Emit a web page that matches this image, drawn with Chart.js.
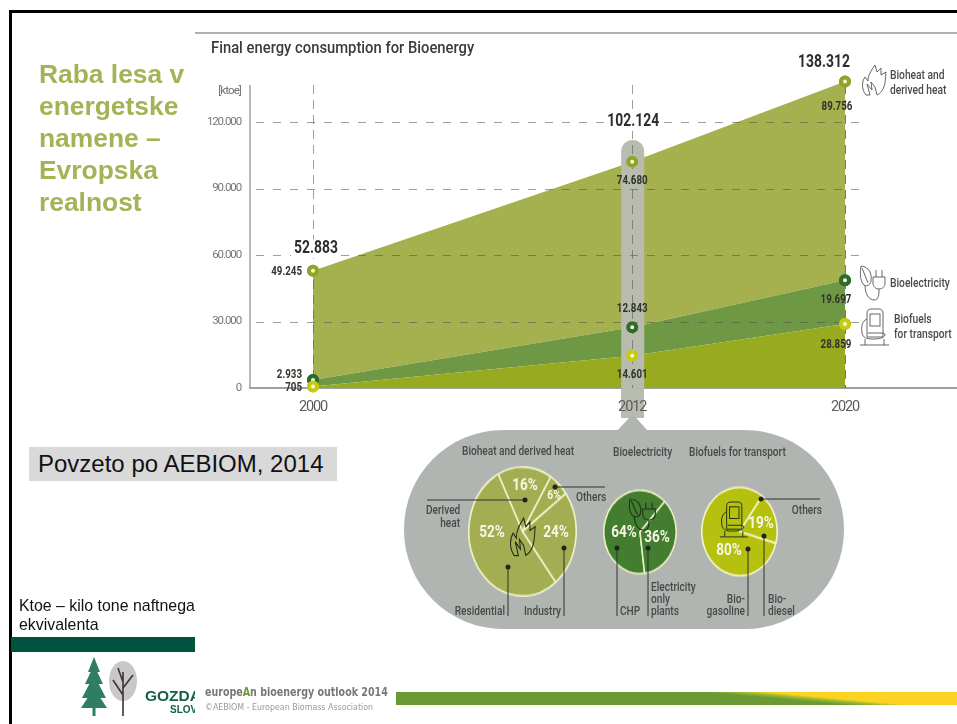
<!DOCTYPE html>
<html lang="sl">
<head>
<meta charset="utf-8">
<title>Raba lesa v energetske namene</title>
<script src="https://cdn.jsdelivr.net/npm/chart.js@4"></script>
<style>
html,body{margin:0;padding:0;background:#fff;}
#page{position:relative;width:957px;height:724px;overflow:hidden;background:#fff;font-family:"Liberation Sans",Arial,sans-serif;}
#page>*{position:absolute;}
canvas{display:block;}
#frameTop{left:9px;top:10px;width:948px;height:3px;background:#000;}
#frameLeft{left:9px;top:10px;width:3px;height:714px;background:#000;}
#imgLine{left:195px;top:32px;width:762px;height:2px;background:#b0b0b0;}
#heading{left:39px;top:58px;font-weight:bold;font-size:26.4px;line-height:32px;color:#a6b255;white-space:nowrap;}
#source{left:29px;top:447px;width:299px;height:34px;padding-left:9px;background:#d9d9d9;font-size:24px;line-height:34px;color:#111;white-space:nowrap;}
#note{left:19px;top:595.5px;width:178px;overflow:hidden;font-size:15.9px;line-height:19.5px;color:#111;white-space:nowrap;}
#greenBar{left:11px;top:637px;width:184px;height:15px;background:#00533f;}
#logoClip{left:140px;top:680px;width:55px;height:40px;overflow:hidden;}
#logoClip div{position:absolute;font-weight:bold;color:#14604c;white-space:nowrap;}
#chartTitle{left:211px;top:37px;font-family:Roboto,sans-serif;font-size:17px;font-weight:500;line-height:20px;color:#3b3b3b;white-space:nowrap;transform:scaleX(.87);transform-origin:0 50%;}
#footA{left:205px;top:684px;font-family:"DejaVu Sans Condensed",sans-serif;font-weight:bold;font-size:12.3px;line-height:16px;color:#777;white-space:nowrap;transform:scaleX(.86);transform-origin:0 50%;}
#footA b{color:#6b9a35;}
#footB{left:205px;top:701px;font-family:"DejaVu Sans Condensed",sans-serif;font-size:8.8px;line-height:12px;color:#999;white-space:nowrap;}
#footBar{left:396px;top:692px;width:561px;height:13px;background:linear-gradient(5.2deg,#6b9a35 0%,#6b9a35 64%,#9cbc2f 69%,#fdd322 73%,#fdd322 100%);}
#panelBack,#overlay{left:0;top:0;}
#main{left:0;top:0;}
.pie{position:absolute;transform-origin:50% 50%;}
svg text{font-family:Roboto,sans-serif;font-size:13px;font-weight:500;fill:#474a47;transform-box:fill-box;transform-origin:0 50%;transform:scaleX(.78);}
svg text.r{text-anchor:end;transform-origin:100% 50%;}
svg .pct{font-weight:bold;fill:#f6f6e4;font-size:17px;text-anchor:middle;dominant-baseline:middle;transform-origin:50% 50%;transform:scaleX(.8);}
svg .lg{font-size:12.5px;fill:#4a4a4a;transform:scaleX(.82);}
</style>
</head>
<body>
<div id="page">
  <svg id="panelBack" width="957" height="724" viewBox="0 0 957 724">
    <rect x="404" y="430" width="440" height="199" rx="99" ry="99" fill="#b1b5b2"/>
    <rect x="621" y="380" width="23" height="38" fill="#b7bcae"/>
    <polygon points="632.5,414 617,431 648,431" fill="#b1b5b2"/>
  </svg>
  <canvas id="main" width="957" height="724"></canvas>

  <canvas id="pieHeat" class="pie" width="109" height="109" style="left:467.5px;top:476.5px;transform:scaleY(1.2)"></canvas>
  <canvas id="pieElectricity" class="pie" width="74" height="74" style="left:603px;top:494.7px;transform:scaleY(1.15)"></canvas>
  <canvas id="pieFuels" class="pie" width="77" height="77" style="left:700.5px;top:493px;transform:scaleY(1.17)"></canvas>

  <svg id="overlay" width="957" height="724" viewBox="0 0 957 724">
    <text x="462" y="455">Bioheat and derived heat</text>
    <text x="613" y="456">Bioelectricity</text>
    <text x="689" y="456">Biofuels for transport</text>

    <g stroke="#2f322f" stroke-width="1" fill="none">
      <path d="M427 500H525M555 487H605M508 567V616M564 548V616"/>
      <path d="M617 548V616M648 548V616M748 549V616M764 536V616M761 499H820"/>
    </g>
    <g fill="#20251f">
      <circle cx="525" cy="500" r="2.5"/><circle cx="555" cy="487" r="2.5"/>
      <circle cx="508" cy="567" r="2.5"/><circle cx="564" cy="548" r="2.5"/>
      <circle cx="617" cy="548" r="2.5"/><circle cx="648" cy="548" r="2.5"/>
      <circle cx="748" cy="549" r="2.5"/><circle cx="764" cy="536" r="2.5"/>
      <circle cx="761" cy="499" r="2.5"/>
    </g>

    <text x="426" y="514">Derived</text>
    <text class="r" x="460" y="527">heat</text>
    <text x="576" y="501">Others</text>
    <text class="r" x="505" y="615">Residential</text>
    <text class="r" x="561" y="615">Industry</text>
    <text x="620" y="615">CHP</text>
    <text x="651" y="591">Electricity</text>
    <text x="651" y="603">only</text>
    <text x="651" y="615">plants</text>
    <text class="r" x="745" y="603">Bio-</text>
    <text class="r" x="745" y="615">gasoline</text>
    <text x="768" y="603">Bio-</text>
    <text x="768" y="615">diesel</text>
    <text class="r" x="822" y="514">Others</text>

    <text class="pct" x="525" y="486">16%</text>
    <text class="pct" x="554" y="496" style="font-size:13px">6%</text>
    <text class="pct" x="492" y="533">52%</text>
    <text class="pct" x="556" y="533">24%</text>
    <text class="pct" x="624" y="533">64%</text>
    <text class="pct" x="657" y="538">36%</text>
    <text class="pct" x="761" y="524">19%</text>
    <text class="pct" x="729" y="551">80%</text>

    <text class="lg" x="890" y="79">Bioheat and</text>
    <text class="lg" x="890" y="94">derived heat</text>
    <text class="lg" x="890" y="287">Bioelectricity</text>
    <text class="lg" x="894" y="323">Biofuels</text>
    <text class="lg" x="894" y="338">for transport</text>

    <defs>
      <path id="flame" d="M4 30C-1 24 0 16 3 12L6 16C6 10 9 6 13 0L15 7L19 3L19 10L24 7C23 14 24 18 21 24C19 28 17 29 15 30L13 22L9 17L10 25L5 19L8 30Z"/>
      <g id="plug">
        <path d="M2 2C10 3 13 9 12 17C11 22 7 23 4 20C1 16 1 8 2 2ZM3 4L9 19"/>
        <path d="M6 21C6 30 10 36 15 36C20 36 20 30 20 25"/>
        <path d="M14 13H26V19C26 23 23 25 20 25C17 25 14 23 14 19ZM17 13V6M23 13V6"/>
      </g>
      <g id="pump">
        <path d="M7 4C7 1 9 0 11 0H19C21 0 23 1 23 4V28H7Z"/>
        <rect x="10" y="5" width="10" height="12"/>
        <path d="M7 10C2 12 1 18 2 24C3 29 7 30 13 30C19 30 24 29 25 26C25 24 23 24 20 24H8"/>
        <path d="M0 36H29"/><path d="M5 30V36M24 30V36"/>
      </g>
    </defs>
    <g fill="none" stroke="#555" stroke-width="0.9">
      <use href="#flame" x="862" y="65"/>
      <use href="#plug" x="859" y="264"/>
      <use href="#pump" x="860" y="309"/>
    </g>
    <g fill="none" stroke="#20301a" stroke-width="1">
      <use href="#flame" transform="translate(510 518) scale(1.05 1.25)"/>
      <use href="#plug" transform="translate(628 497) scale(1.05 0.92)"/>
      <use href="#pump" transform="translate(720 502) scale(0.95 0.97)"/>
    </g>

    <g fill="#2f7d62">
      <polygon points="94,657 88,672 100,672"/><polygon points="94,665 85,684 103,684"/>
      <polygon points="94,675 82,698 106,698"/><polygon points="94,688 81,708 107,708"/>
      <rect x="92.5" y="705" width="3" height="11"/>
    </g>
    <ellipse cx="123" cy="681" rx="14" ry="20" fill="#c9c7c7"/>
    <path d="M123 716V672M123 695L113 680M123 688L133 675M123 682L118 668" stroke="#3b3532" stroke-width="1.6" fill="none"/>
  </svg>

  <div id="frameTop"></div>
  <div id="frameLeft"></div>
  <div id="imgLine"></div>
  <div id="heading">Raba lesa v<br>energetske<br>namene –<br>Evropska<br>realnost</div>
  <div id="chartTitle">Final energy consumption for Bioenergy</div>
  <div id="source">Povzeto po AEBIOM, 2014</div>
  <div id="note">Ktoe – kilo tone naftnega<br>ekvivalenta</div>
  <div id="greenBar"></div>
  <div id="logoClip">
    <div style="left:5px;top:6px;font-size:15.5px;line-height:20px">GOZDARSKI</div>
    <div style="left:30px;top:23px;font-size:10px;line-height:14px">SLOVENIJE</div>
  </div>
  <div id="footA">europe<b>A</b>n bioenergy outlook 2014</div>
  <div id="footB">©AEBIOM - European Biomass Association</div>
  <div id="footBar"></div>
</div>

<script>
// ---------- data ----------
const years = [2000, 2012, 2020];
const biofuels = [705, 14601, 28859];
const bioelectricity = [2933, 12843, 19697];
const bioheat = [49245, 74680, 89756];
const totals = [52883, 102124, 138312];
const yTickValues = [0, 30000, 60000, 90000, 120000];

const heatShareLabels = ['Derived heat', 'Others', 'Industry', 'Residential'];
const heatShares = [16, 6, 24, 52];
const electricityShareLabels = ['CHP', 'Electricity only plants'];
const electricityShares = [64, 36];
const fuelShareLabels = ['Bio-diesel', 'Bio-gasoline'];
const fuelShares = [19, 80];

// ---------- helpers ----------
const FONT = 'Roboto,sans-serif';
const dotted = v => String(v).replace(/\B(?=(\d{3})+(?!\d))/g, '.');
const toPoints = vals => vals.map((v, i) => ({ x: years[i], y: v }));
const pinScale = s => { s.paddingLeft = s.paddingRight = s.paddingTop = s.paddingBottom = 0; };

// Label placement relative to each marker: [dx, dy, align]
const labelPlacement = {
  total: [[3, -22, 'center'], [1, -40, 'center'], [-21, -19, 'center']],
  heat:  [[-11, 1, 'right'], [0, 19, 'center'], [-8, 25, 'center']],
  elec:  [[-11, -5, 'right'], [0, -18, 'center'], [-9, 19, 'center']],
  fuel:  [[-11, 1, 'right'], [0, 19, 'center'], [-9, 21, 'center']]
};

const overlayPlugin = {
  id: 'overlayPlugin',
  beforeDraw(chart) {
    chart.ctx.letterSpacing = '-1.1px';
  },
  afterDatasetsDraw(chart) {
    const { ctx, scales: { x, y } } = chart;
    const axisTop = y.getPixelForValue(136700);
    const rightEnd = x.getPixelForValue(2020) + 15;

    ctx.save();
    ctx.letterSpacing = '0px';
    // grey highlight column behind the 2012 markers
    const cx = x.getPixelForValue(2012) + 0.5;
    const top = 140, bottom = y.getPixelForValue(0);
    ctx.fillStyle = '#b7bcae';
    ctx.beginPath();
    ctx.roundRect(cx - 11.5, top, 23, bottom - top + 1, [11.5, 11.5, 0, 0]);
    ctx.fill();

    // axis line
    ctx.strokeStyle = '#a0a0a0';
    ctx.lineWidth = 1.5;
    ctx.beginPath();
    ctx.moveTo(x.left, axisTop);
    ctx.lineTo(x.left, y.bottom);
    ctx.stroke();

    // dashed grid
    ctx.lineWidth = 1;
    ctx.setLineDash([8, 9]);
    yTickValues.slice(1).forEach(v => {
      const py = Math.round(y.getPixelForValue(v)) + 0.5;
      ctx.strokeStyle = 'rgba(80,80,70,0.55)';
      ctx.beginPath();
      ctx.moveTo(x.left + 6, py);
      ctx.lineTo(rightEnd, py);
      ctx.stroke();
    });
    ctx.setLineDash([9, 6]);
    years.forEach(yr => {
      const px = Math.round(x.getPixelForValue(yr)) + 0.5;
      ctx.strokeStyle = yr === 2020 ? 'rgba(50,70,40,0.7)' : 'rgba(80,80,70,0.55)';
      ctx.beginPath();
      ctx.moveTo(px, axisTop);
      ctx.lineTo(px, y.bottom);
      ctx.stroke();
    });
    ctx.setLineDash([]);

    // markers drawn through the library's own point elements
    [2, 1, 0].forEach(d => {
      chart.getDatasetMeta(d).data.forEach(pt => pt.draw(ctx));
    });

    // value labels
    const squeeze = 0.75;
    const drawLabel = (text, pt, place, size, color, halo) => {
      const lx = pt.x + place[0], ly = pt.y + place[1];
      ctx.font = `bold ${size}px ${FONT}`;
      ctx.textAlign = place[2];
      ctx.textBaseline = 'middle';
      if (halo) {
        const w = ctx.measureText(text).width * squeeze + 6;
        ctx.fillStyle = '#fff';
        ctx.fillRect(lx - w / 2, ly - size / 2, w, size);
      }
      ctx.save();
      ctx.translate(lx, ly);
      ctx.scale(squeeze, 1);
      ctx.fillStyle = color;
      ctx.fillText(text, 0, 0);
      ctx.restore();
    };
    const topMeta = chart.getDatasetMeta(2).data;
    const elecMeta = chart.getDatasetMeta(1).data;
    const fuelMeta = chart.getDatasetMeta(0).data;
    years.forEach((_, i) => {
      drawLabel(dotted(totals[i]), topMeta[i], labelPlacement.total[i], 18.5, '#2b2f2b', i < 2);
      drawLabel(dotted(bioheat[i]), topMeta[i], labelPlacement.heat[i], 13, '#30342a');
      drawLabel(dotted(bioelectricity[i]), elecMeta[i], labelPlacement.elec[i], 13, '#30342a');
      drawLabel(dotted(biofuels[i]), fuelMeta[i], labelPlacement.fuel[i], 13, '#30342a');
    });

    // unit label
    ctx.letterSpacing = '-0.9px';
    ctx.font = `11.5px ${FONT}`;
    ctx.textAlign = 'right';
    ctx.fillStyle = '#707070';
    ctx.fillText('[ktoe]', 241, y.getPixelForValue(134000));
    ctx.restore();
  }
};

const series = (label, data, area, ring, fillTarget) => ({
  label,
  data: toPoints(data),
  stack: 'energy',
  fill: fillTarget,
  backgroundColor: area,
  borderWidth: 0,
  borderColor: area,
  tension: 0,
  clip: false,
  pointRadius: 4,
  pointBorderWidth: 4,
  pointBorderColor: ring,
  pointBackgroundColor: '#f7f7d8'
});

new Chart(document.getElementById('main'), {
  type: 'line',
  data: {
    datasets: [
      series('Biofuels for transport', biofuels, '#98aa20', '#c3cc12', 'origin'),
      series('Bioelectricity', bioelectricity, '#6f9845', '#2f6a2a', '-1'),
      series('Bioheat and derived heat', bioheat, '#a5b04f', '#8fa52a', '-1')
    ]
  },
  plugins: [overlayPlugin],
  options: {
    responsive: false,
    animation: false,
    layout: { padding: 0, autoPadding: false },
    plugins: { legend: { display: false }, tooltip: { enabled: false }, title: { display: false } },
    scales: {
      x: {
        type: 'linear',
        min: 2000 - 63 / 26.6,
        max: 2000 + 644 / 26.6,
        afterFit: s => { s.height = 336; pinScale(s); },
        afterBuildTicks: s => { s.ticks = years.map(v => ({ value: v })); },
        grid: { display: false, drawTicks: false },
        border: { display: true, color: '#a0a0a0', width: 2 },
        ticks: {
          autoSkip: false, maxRotation: 0, padding: 11,
          font: { family: FONT, size: 14.5 }, color: '#5c5c5c',
          callback: v => String(v)
        }
      },
      y: {
        stacked: true,
        min: 0,
        max: 388 / 266 * 120000,
        afterFit: s => { s.width = 250; pinScale(s); },
        afterBuildTicks: s => { s.ticks = yTickValues.map(v => ({ value: v })); },
        grid: { display: false, drawTicks: false },
        border: { display: false },
        ticks: {
          padding: 9,
          font: { family: FONT, size: 11.5 }, color: '#777',
          callback: v => dotted(v)
        }
      }
    }
  }
});

const pie = (id, labels, data, color, line, rotation) => new Chart(document.getElementById(id), {
  type: 'pie',
  data: { labels, datasets: [{ data, backgroundColor: color, borderColor: line, borderWidth: 1.6 }] },
  options: {
    responsive: false,
    animation: false,
    rotation,
    layout: { padding: 0 },
    plugins: { legend: { display: false }, tooltip: { enabled: false } }
  }
});

pie('pieHeat', heatShareLabels, heatShares, '#a3ae52', '#f0f2c6', -27);
pie('pieElectricity', electricityShareLabels, electricityShares, '#427d30', '#e9efc0', 172.6);
pie('pieFuels', fuelShareLabels, fuelShares, '#b5c00f', '#f3f5c4', 36.5);
</script>
</body>
</html>
